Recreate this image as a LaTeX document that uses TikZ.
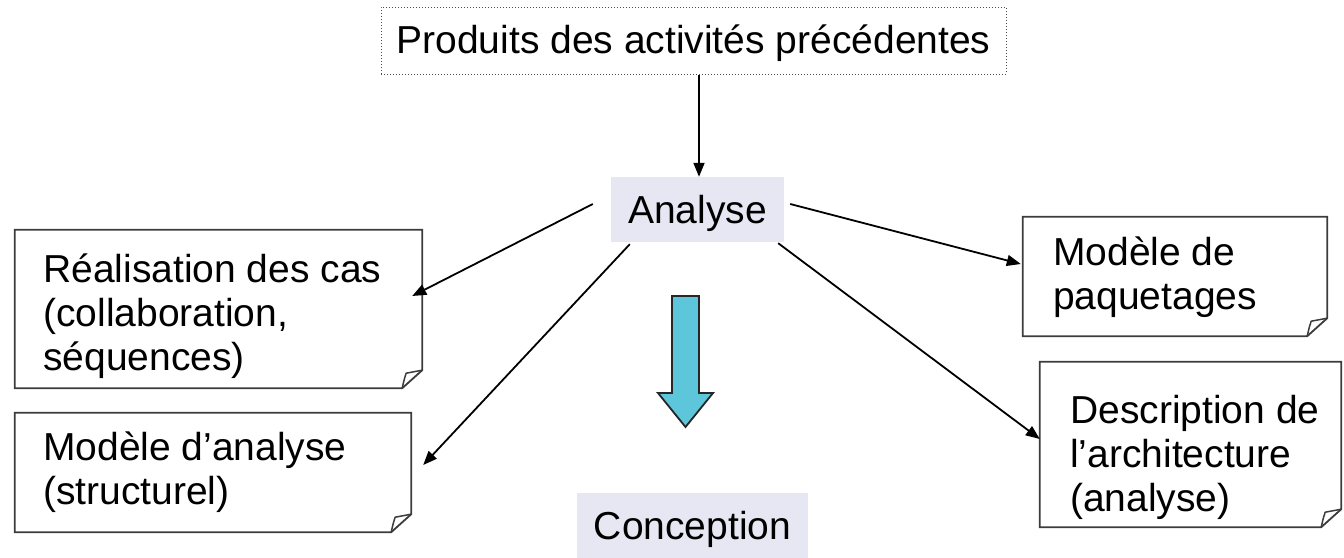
\documentclass[tikz,border=0pt]{standalone}
\usepackage{fontspec}
\setmainfont{Liberation Sans}
\usetikzlibrary{arrows.meta,calc}
\definecolor{lav}{RGB}{231,231,243}
\definecolor{bigcyan}{RGB}{94,198,218}
\definecolor{boxline}{RGB}{60,60,60}
\tikzset{
  every node/.style={font=\fontsize{39}{44}\selectfont, inner sep=0pt},
  docbox/.style={rectangle, draw=none},
  docline/.style={draw=boxline, line width=1.8pt, line join=miter},
  doctext/.style={anchor=base west, align=left},
  phase/.style={rectangle, fill=lav, text height=32pt, text depth=4pt},
  dotbox/.style={rectangle, draw=black!70, line width=1pt, dash pattern=on 1pt off 2pt, text height=30pt, text depth=5pt},
  arr/.style={draw=black, line width=1.8pt, -{Triangle[length=14pt,width=11pt]}},
  bigarrow/.style={fill=bigcyan, draw=black!85, line width=1.8pt, line join=miter}
}
\newcommand\dogearbox[1]{%
  \draw[docline] (#1.north west) -- (#1.north east) -- ($(#1.south east)+(0,-18)$)
     -- ($(#1.south east)+(-20,0)$) -- (#1.south west) -- cycle;
  \draw[docline, line width=1.5pt, line join=round] ($(#1.south east)+(-20,0)$)
     .. controls ($(#1.south east)+(-18,-9)$) .. ($(#1.south east)+(-16,-15)$)
     -- ($(#1.south east)+(0,-18)$);
}
\begin{document}
\begin{tikzpicture}[x=1pt,y=-1pt]
\useasboundingbox (0,0) rectangle (1344,557);
\fill[white] (0,0) rectangle (1344,557);

% top dotted box
\node[dotbox, minimum width=625, minimum height=67] (top) at (693.5,40.5) {Produits des activités précédentes};

% phases
\node[phase, minimum width=173, minimum height=65] (ana) at (697.5,209.5) {Analyse};
\node[phase, minimum width=231, minimum height=65] (conc) at (692.5,525.5) {Conception};

% document boxes
\node[docbox, minimum width=407, minimum height=158] (doc1) at (218.5,309) {};
\node[docbox, minimum width=396, minimum height=119] (doc2) at (213,472.5) {};
\node[docbox, minimum width=304, minimum height=119] (doc3) at (1175,276.5) {};
\node[docbox, minimum width=301, minimum height=165] (doc4) at (1190.5,444.5) {};
\dogearbox{doc1}
\dogearbox{doc2}
\dogearbox{doc3}
\dogearbox{doc4}

% text: anchor is the baseline of the last line
\node[doctext] (t1) at (43,370) {Réalisation des cas\\(collaboration,\\séquences)};
\node[doctext] (t2) at (43,504) {Modèle d’analyse\\(structurel)};
\node[doctext] (t3) at (1053,309) {Modèle de\\paquetages};
\node[doctext] (t4) at (1070,511) {Description de\\l’architecture\\(analyse)};

% big arrow
\draw[bigarrow] (672,296) -- (699,296) -- (699,393) -- (713,393) -- (685.5,427)
   -- (658,393) -- (672,393) -- cycle;

% connectors
\coordinate (anatop) at ($(ana.north)+(1.5,0)$);
\draw[arr] (anatop |- top.south) -- (anatop);
\draw[arr] ($(ana.west)+(-18,-5.5)$) -- ($(doc1.east)+(-10,-13)$);
\draw[arr] ($(ana.south west)+(19,2)$) -- ($(doc2.east)+(12,-7.5)$);
\draw[arr] ($(ana.east)+(6,-5.5)$) -- ($(doc3.west)+(-2,-12.5)$);
\draw[arr] ($(ana.south east)+(-6,1)$) -- ($(doc4.west)+(0,-5.5)$);
\end{tikzpicture}
\end{document}
